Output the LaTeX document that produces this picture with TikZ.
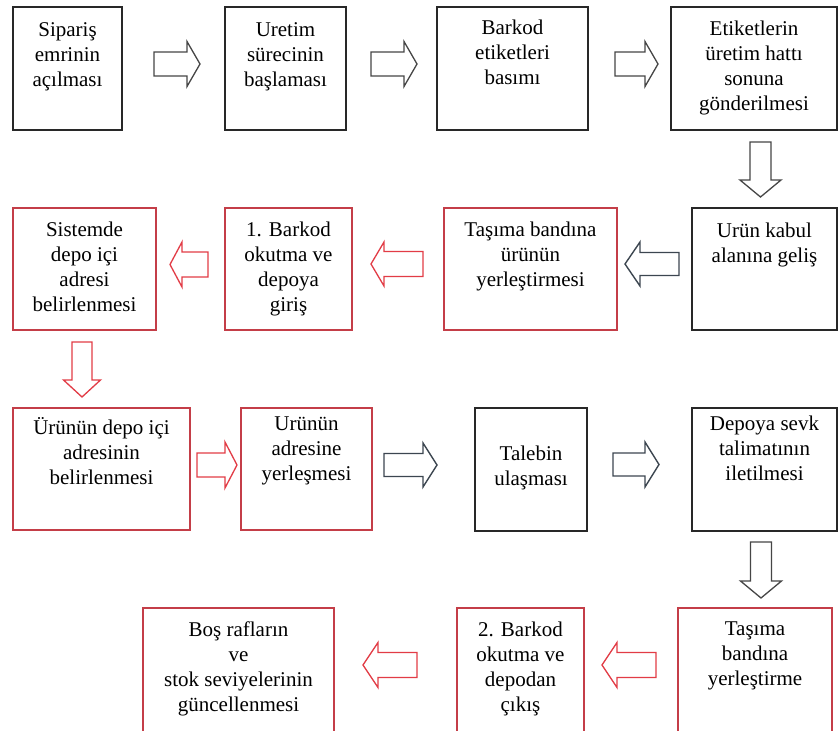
\documentclass[tikz,border=0pt]{standalone}
\usepackage{fontspec}
\setmainfont{Liberation Serif}
\usetikzlibrary{calc}

\definecolor{boxred}{RGB}{196,62,72}
\definecolor{boxdark}{RGB}{40,40,40}
\definecolor{arrred}{RGB}{226,60,70}
\definecolor{arrslate}{RGB}{60,70,80}
\definecolor{arrgray}{RGB}{70,70,70}

\tikzset{
  stage/.style={draw, line width=1.6pt, fill=white, inner sep=0pt, outer sep=0pt},
  blackstage/.style={stage, draw=boxdark},
  redstage/.style={stage, draw=boxred},
  caption/.style={anchor=north, align=center, inner sep=0pt, text=black,
    font=\fontsize{21}{25}\selectfont, execute at begin node={\rule{0pt}{17.5pt}}},
  % hollow block arrow, centred on its position, pointing along +x
  arr len/.store in=\arrlen, arr len=46,
  arr shaft/.store in=\arrshaft, arr shaft=12,
  arr head/.store in=\arrhead, arr head=22.5,
  arr tip/.store in=\arrtip, arr tip=13,
  blockarrow/.pic={
    \draw[pic actions]
      ({-\arrlen/2},{-\arrshaft}) -- ({\arrlen/2-\arrtip},{-\arrshaft})
      -- ({\arrlen/2-\arrtip},{-\arrhead}) -- ({\arrlen/2},0)
      -- ({\arrlen/2-\arrtip},{\arrhead}) -- ({\arrlen/2-\arrtip},{\arrshaft})
      -- ({-\arrlen/2},{\arrshaft}) -- cycle;
  },
  grayarrow/.style={draw=arrgray, fill=white, line width=1.3pt, line join=miter},
  slatearrow/.style={draw=arrslate, fill=white, line width=1.4pt, line join=miter},
  redarrow/.style={draw=arrred, fill=white, line width=1.3pt, line join=miter},
  downarrow/.style={rotate=-90, arr shaft=10.5, arr head=20.5, arr tip=17},
}

\begin{document}
\begin{tikzpicture}[x=1pt, y=-1pt]
\useasboundingbox (0,0) rectangle (839,731);
\clip (0,0) rectangle (839,731);
\fill[white] (0,0) rectangle (839,731);

% ---- stages ----
\node[blackstage, minimum width=109, minimum height=123] (b1)  at (67.5,68.5) {};
\node[blackstage, minimum width=121, minimum height=123] (b2)  at (285.5,68.5) {};
\node[blackstage, minimum width=151, minimum height=123] (b3)  at (512.5,68.5) {};
\node[blackstage, minimum width=166, minimum height=123] (b4)  at (754,68.5) {};
\node[blackstage, minimum width=145, minimum height=122] (b5)  at (764.5,269) {};
\node[redstage,   minimum width=173, minimum height=122] (b6)  at (530.5,269) {};
\node[redstage,   minimum width=127, minimum height=122] (b7)  at (288.5,269) {};
\node[redstage,   minimum width=143, minimum height=122] (b8)  at (84.5,269) {};
\node[redstage,   minimum width=177, minimum height=122] (b9)  at (101.5,469) {};
\node[redstage,   minimum width=131, minimum height=122] (b10) at (306.5,469) {};
\node[blackstage, minimum width=112, minimum height=123] (b11) at (531,469.5) {};
\node[blackstage, minimum width=145, minimum height=123] (b12) at (764.5,469.5) {};
\node[redstage,   minimum width=154, minimum height=128] (b13) at (755,672) {};
\node[redstage,   minimum width=127, minimum height=128] (b14) at (520.5,672) {};
\node[redstage,   minimum width=191, minimum height=128] (b15) at (238.5,672) {};

% ---- captions ----
\node[caption] (t1)  at ($(b1.north)+(0,15)$)  {Sipariş\\emrinin\\açılması};
\node[caption] (t2)  at ($(b2.north)+(0,15)$)  {Uretim\\sürecinin\\başlaması};
\node[caption] (t3)  at ($(b3.north)+(0,13)$)  {Barkod\\etiketleri\\basımı};
\node[caption] (t4)  at ($(b4.north)+(0,14)$)  {Etiketlerin\\üretim hattı\\sonuna\\gönderilmesi};
\node[caption] (t5)  at ($(b5.north)+(0,15)$)  {Urün kabul\\alanına geliş};
\node[caption] (t6)  at ($(b6.north)+(0,14)$)  {Taşıma bandına\\ürünün\\yerleştirmesi};
\node[caption] (t7)  at ($(b7.north)+(0,14)$)  {1. Barkod\\okutma ve\\depoya\\giriş};
\node[caption] (t8)  at ($(b8.north)+(0,14)$)  {Sistemde\\depo içi\\adresi\\belirlenmesi};
\node[caption] (t9)  at ($(b9.north)+(0,9)$)   {Ürünün depo içi\\adresinin\\belirlenmesi};
\node[caption] (t10) at ($(b10.north)+(0,9)$)  {Urünün\\adresine\\yerleşmesi};
\node[caption] (t11) at ($(b11.north)+(0,38)$) {Talebin\\ulaşması};
\node[caption] (t12) at ($(b12.north)+(0,8)$)  {Depoya sevk\\talimatının\\iletilmesi};
\node[caption] (t13) at ($(b13.north)+(0,14)$) {Taşıma\\bandına\\yerleştirme};
\node[caption] (t14) at ($(b14.north)+(0,14)$) {2. Barkod\\okutma ve\\depodan\\çıkış};
\node[caption] (t15) at ($(b15.north)+(0,14)$) {Boş rafların\\ve\\stok seviyelerinin\\güncellenmesi};

% ---- block arrows between stages ----
\pic[grayarrow, arr len=46] at ($(b1.east)!0.5!(b2.west)+(3.5,-4.5)$) {blockarrow};
\pic[grayarrow, arr len=46] at ($(b2.east)!0.5!(b3.west)+(2.5,-4.5)$) {blockarrow};
\pic[grayarrow, arr len=43] at ($(b3.east)!0.5!(b4.west)+(7,-4.5)$) {blockarrow};
\pic[grayarrow, downarrow, arr len=55] at ($(b4.south)!0.5!(b5.north)+(1.25,0.5)$) {blockarrow};

\pic[slatearrow, rotate=180, arr len=54, arr shaft=11.5, arr head=22, arr tip=15]
  at ($(b5.west)!0.5!(b6.east)+(-2.5,-5)$) {blockarrow};
\pic[redarrow, rotate=180, arr len=52, arr shaft=12.5, arr head=22, arr tip=13]
  at ($(b6.west)!0.5!(b7.east)+(-1,-5)$) {blockarrow};
\pic[redarrow, rotate=180, arr len=38, arr shaft=12.5, arr head=22.5, arr tip=12]
  at ($(b7.west)!0.5!(b8.east)+(-1.5,-4.5)$) {blockarrow};
\pic[redarrow, downarrow, arr len=55, arr shaft=10, arr head=18.5]
  at ($(b8.south)!0.5!(b9.north)+(-11,0.5)$) {blockarrow};

\pic[redarrow, arr len=40, arr shaft=12, arr head=23, arr tip=12]
  at ($(b9.east)!0.5!(b10.west)+(1.5,-4)$) {blockarrow};
\pic[slatearrow, arr len=53, arr shaft=11.5, arr head=22, arr tip=14]
  at ($(b10.east)!0.5!(b11.west)+(-13,-4.25)$) {blockarrow};
\pic[slatearrow, arr len=46, arr shaft=11.5, arr head=22.5, arr tip=14]
  at ($(b11.east)!0.5!(b12.west)+(-3.5,-5)$) {blockarrow};
\pic[grayarrow, downarrow, arr len=56] at ($(b12.south)!0.5!(b13.north)+(1.25,0.5)$) {blockarrow};

\pic[redarrow, rotate=180, arr len=54, arr shaft=12.5, arr head=22.5, arr tip=15]
  at ($(b13.west)!0.5!(b14.east)+(-2,-7)$) {blockarrow};
\pic[redarrow, rotate=180, arr len=54, arr shaft=12.5, arr head=22.5, arr tip=15]
  at ($(b14.west)!0.5!(b15.east)+(-5.5,-7)$) {blockarrow};
\end{tikzpicture}
\end{document}
